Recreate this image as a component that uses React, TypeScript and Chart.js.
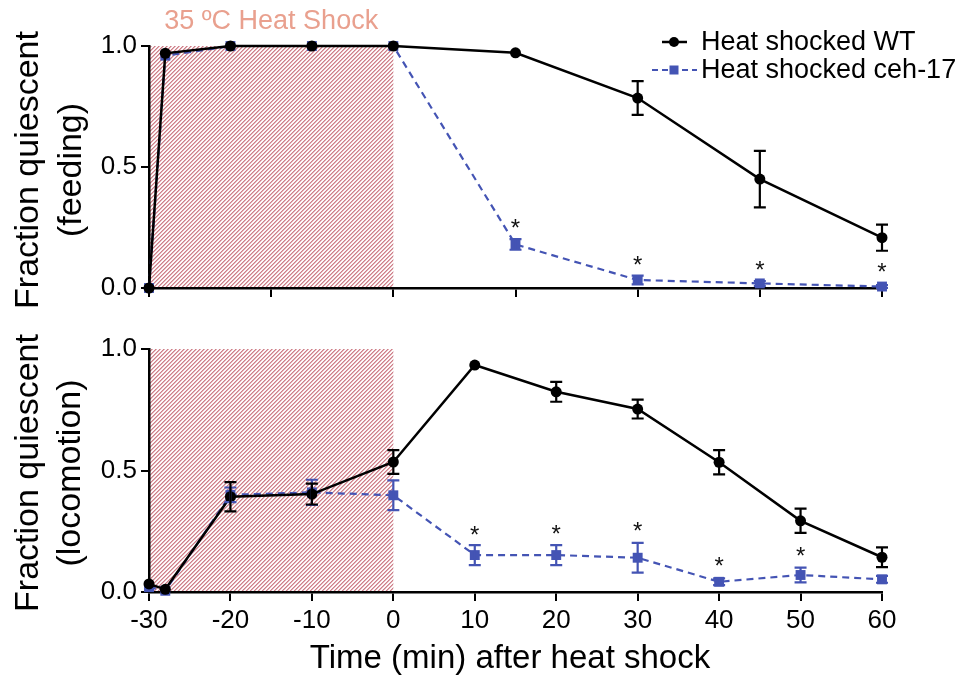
import React, { useEffect, useRef } from 'react';
import { Chart, registerables } from 'chart.js';
Chart.register(...registerables);

const FONT = "Arial, 'Liberation Sans', Helvetica, sans-serif";
const BLUE = '#4454b4';
const BLACK = '#000000';
const HEAT_COLOR = '#e9a08e';

// Top panel: feeding
const feedTime = [-30, -28, -20, -10, 0, 15, 30, 45, 60];
const feedWT = [0, 0.97, 1, 1, 1, 0.972, 0.785, 0.45, 0.208];
const feedWTErr = [0, 0, 0, 0, 0, 0, 0.07, 0.117, 0.054];
const feedCeh = [0, 0.96, 1, 1, 1, 0.18, 0.033, 0.019, 0.006];
const feedCehErr = [0, 0, 0, 0, 0, 0.022, 0.018, 0.01, 0.006];
const feedStars = [null, null, null, null, null, 0.273, 0.12, 0.1, 0.09];
const feedTicks = [-30, -15, 0, 15, 30, 45, 60];

// Bottom panel: locomotion
const locoTime = [-30, -28, -20, -10, 0, 10, 20, 30, 40, 50, 60];
const locoWT = [0.033, 0.011, 0.392, 0.403, 0.535, 0.934, 0.824, 0.753, 0.534, 0.293, 0.143];
const locoWTErr = [0, 0, 0.06, 0.043, 0.049, 0, 0.041, 0.039, 0.05, 0.05, 0.041];
const locoCeh = [0.02, 0.005, 0.4, 0.41, 0.398, 0.152, 0.152, 0.141, 0.042, 0.07, 0.052];
const locoCehErr = [0, 0, 0.03, 0.052, 0.061, 0.041, 0.041, 0.061, 0.014, 0.03, 0.014];
const locoStars = [null, null, null, null, null, 0.259, 0.265, 0.276, 0.132, 0.173, null];

const heatStart = -30;
const heatEnd = 0;
const seriesNames = ['Heat shocked WT', 'Heat shocked ceh-17'];

let hatchCache: CanvasPattern | null = null;
function getHatch(ctx: CanvasRenderingContext2D): CanvasPattern | string {
  if (hatchCache) return hatchCache;
  const tile = document.createElement('canvas');
  tile.width = 4;
  tile.height = 4;
  const t = tile.getContext('2d');
  if (!t) return '#e0b0b5';
  const img = t.createImageData(4, 4);
  const cols = [
    [204, 128, 138],
    [228, 176, 182],
    [255, 255, 255],
    [250, 240, 241],
  ];
  for (let y = 0; y < 4; y++) {
    for (let x = 0; x < 4; x++) {
      const d = (x + y) % 4;
      const c = cols[d];
      const i = (y * 4 + x) * 4;
      img.data[i] = c[0];
      img.data[i + 1] = c[1];
      img.data[i + 2] = c[2];
      img.data[i + 3] = 255;
    }
  }
  t.putImageData(img, 0, 0);
  const p = ctx.createPattern(tile, 'repeat');
  if (p) hatchCache = p;
  return p || '#e0b0b5';
}

type PanelCfg = {
  times: number[];
  wt: number[];
  wtErr: number[];
  ceh: number[];
  cehErr: number[];
  stars: (number | null)[];
  yTitle: string[];
  yTitleX: number[];
  yTitleY: number;
  heatLabel: boolean;
  legend: boolean;
  xTitle: string | null;
  xTitleY: number;
};

function makePlugin(cfg: PanelCfg) {
  return {
    id: 'panelDeco',
    beforeDraw(chart: any) {
      const { ctx, scales } = chart;
      const xs = scales.x;
      const ys = scales.y;
      const x0 = xs.getPixelForValue(heatStart);
      const x1 = xs.getPixelForValue(heatEnd);
      const y0 = ys.getPixelForValue(1);
      const y1 = ys.getPixelForValue(0);
      ctx.save();
      ctx.fillStyle = getHatch(ctx);
      ctx.fillRect(x0, y0, x1 - x0, y1 - y0);
      ctx.restore();
    },
    afterDatasetsDraw(chart: any) {
      const { ctx, scales } = chart;
      const xs = scales.x;
      const ys = scales.y;
      const drawErr = (vals: number[], errs: number[], color: string) => {
        ctx.save();
        ctx.strokeStyle = color;
        ctx.lineWidth = 2.2;
        for (let i = 0; i < vals.length; i++) {
          const e = errs[i];
          if (!e) continue;
          const x = xs.getPixelForValue(cfg.times[i]);
          const ya = ys.getPixelForValue(vals[i] + e);
          const yb = ys.getPixelForValue(vals[i] - e);
          ctx.beginPath();
          ctx.moveTo(x, ya);
          ctx.lineTo(x, yb);
          ctx.moveTo(x - 6, ya);
          ctx.lineTo(x + 6, ya);
          ctx.moveTo(x - 6, yb);
          ctx.lineTo(x + 6, yb);
          ctx.stroke();
        }
        ctx.restore();
      };
      drawErr(cfg.ceh, cfg.cehErr, BLUE);
      drawErr(cfg.wt, cfg.wtErr, BLACK);
      ctx.save();
      ctx.fillStyle = '#111';
      ctx.font = `24px ${FONT}`;
      ctx.textAlign = 'center';
      ctx.textBaseline = 'alphabetic';
      for (let i = 0; i < cfg.stars.length; i++) {
        const s = cfg.stars[i];
        if (s === null || s === undefined) continue;
        const x = xs.getPixelForValue(cfg.times[i]);
        const y = ys.getPixelForValue(s);
        ctx.fillText('*', x, y + 14);
      }
      ctx.restore();
    },
    afterDraw(chart: any) {
      const { ctx, scales } = chart;
      const xs = scales.x;
      ctx.save();
      // y title
      ctx.fillStyle = '#000';
      ctx.font = `34px ${FONT}`;
      ctx.textAlign = 'center';
      ctx.textBaseline = 'middle';
      cfg.yTitle.forEach((line, k) => {
        ctx.save();
        ctx.translate(cfg.yTitleX[k], cfg.yTitleY);
        ctx.rotate(-Math.PI / 2);
        ctx.fillText(line, 0, 0);
        ctx.restore();
      });
      if (cfg.heatLabel) {
        const cx = (xs.getPixelForValue(heatStart) + xs.getPixelForValue(heatEnd)) / 2;
        ctx.fillStyle = HEAT_COLOR;
        ctx.font = `27px ${FONT}`;
        ctx.textAlign = 'center';
        ctx.textBaseline = 'alphabetic';
        ctx.fillText('35 \u00BAC Heat Shock', cx, 29);
      }
      if (cfg.legend) {
        ctx.font = `27px ${FONT}`;
        ctx.textAlign = 'left';
        ctx.textBaseline = 'middle';
        // WT
        ctx.strokeStyle = BLACK;
        ctx.lineWidth = 2.5;
        ctx.beginPath();
        ctx.moveTo(662, 42);
        ctx.lineTo(687, 42);
        ctx.stroke();
        ctx.fillStyle = BLACK;
        ctx.beginPath();
        ctx.arc(674, 42, 5, 0, Math.PI * 2);
        ctx.fill();
        ctx.fillText(seriesNames[0], 701, 43);
        // ceh-17
        ctx.strokeStyle = BLUE;
        ctx.lineWidth = 2;
        ctx.setLineDash([6, 4]);
        ctx.beginPath();
        ctx.moveTo(652, 70);
        ctx.lineTo(697, 70);
        ctx.stroke();
        ctx.setLineDash([]);
        ctx.fillStyle = BLUE;
        ctx.fillRect(669.5, 65.5, 9, 9);
        ctx.fillStyle = BLACK;
        ctx.fillText(seriesNames[1], 701, 71);
      }
      if (cfg.xTitle) {
        ctx.fillStyle = '#000';
        ctx.font = `33px ${FONT}`;
        ctx.textAlign = 'center';
        ctx.textBaseline = 'alphabetic';
        ctx.fillText(cfg.xTitle, 510, cfg.xTitleY);
      }
      ctx.restore();
    },
  };
}

function buildConfig(cfg: PanelCfg, opts: { top: number; xHeight: number; bottomAxis: boolean }) {
  const wtData = cfg.times.map((t, i) => ({ x: t, y: cfg.wt[i] }));
  const cehData = cfg.times.map((t, i) => ({ x: t, y: cfg.ceh[i] }));
  return {
    type: 'line' as const,
    data: {
      datasets: [
        {
          label: seriesNames[0],
          data: wtData,
          borderColor: BLACK,
          backgroundColor: BLACK,
          borderWidth: 2.5,
          pointStyle: 'circle',
          pointRadius: 5.5,
          pointBorderWidth: 0,
          tension: 0,
          clip: false,
        },
        {
          label: seriesNames[1],
          data: cehData,
          borderColor: BLUE,
          backgroundColor: BLUE,
          borderWidth: 2.2,
          borderDash: [7, 5],
          pointStyle: 'rect',
          pointRadius: 7,
          pointBorderWidth: 0,
          tension: 0,
          clip: false,
        },
      ],
    },
    options: {
      animation: false as const,
      responsive: false,
      devicePixelRatio: 1,
      events: [],
      layout: { padding: { left: 0, right: 78, top: opts.top, bottom: 0 } },
      plugins: {
        legend: { display: false },
        tooltip: { enabled: false },
      },
      scales: {
        x: {
          type: 'linear' as const,
          min: -30,
          max: 60,
          afterFit: (s: any) => {
            s.height = opts.xHeight;
          },
          afterBuildTicks: (s: any) => {
            if (!opts.bottomAxis) s.ticks = feedTicks.map((v) => ({ value: v }));
          },
          ticks: {
            stepSize: 10,
            autoSkip: false,
            maxRotation: 0,
            padding: 4,
            color: '#000',
            font: { family: FONT, size: 26 },
            callback: (v: any) => (opts.bottomAxis ? String(v) : ''),
          },
          grid: {
            drawOnChartArea: false,
            drawTicks: true,
            tickLength: 9,
            color: '#000',
            lineWidth: 2,
          },
          border: { display: true, color: '#000', width: 2.5 },
        },
        y: {
          type: 'linear' as const,
          min: 0,
          max: 1,
          afterFit: (s: any) => {
            s.width = 149;
          },
          ticks: {
            stepSize: 0.5,
            padding: 4,
            color: '#000',
            font: { family: FONT, size: 26 },
            callback: (v: any) => Number(v).toFixed(1),
          },
          grid: {
            drawOnChartArea: false,
            drawTicks: true,
            tickLength: 8,
            color: '#000',
            lineWidth: 2,
          },
          border: { display: true, color: '#000', width: 2.5 },
        },
      },
    },
    plugins: [makePlugin(cfg)],
  };
}

const topCfg: PanelCfg = {
  times: feedTime,
  wt: feedWT,
  wtErr: feedWTErr,
  ceh: feedCeh,
  cehErr: feedCehErr,
  stars: feedStars,
  yTitle: ['Fraction quiescent', '(feeding)'],
  yTitleX: [29, 72],
  yTitleY: 170,
  heatLabel: true,
  legend: true,
  xTitle: null,
  xTitleY: 0,
};

const bottomCfg: PanelCfg = {
  times: locoTime,
  wt: locoWT,
  wtErr: locoWTErr,
  ceh: locoCeh,
  cehErr: locoCehErr,
  stars: locoStars,
  yTitle: ['Fraction quiescent', '(locomotion)'],
  yTitleX: [29, 71],
  yTitleY: 153,
  heatLabel: false,
  legend: false,
  xTitle: 'Time (min) after heat shock',
  xTitleY: 348,
};

export default function App() {
  const topRef = useRef<HTMLCanvasElement | null>(null);
  const botRef = useRef<HTMLCanvasElement | null>(null);

  useEffect(() => {
    if (!topRef.current || !botRef.current) return;
    const c1 = new Chart(topRef.current, buildConfig(topCfg, { top: 46, xHeight: 32, bottomAxis: false }) as any);
    const c2 = new Chart(botRef.current, buildConfig(bottomCfg, { top: 29, xHeight: 85, bottomAxis: true }) as any);
    return () => {
      c1.destroy();
      c2.destroy();
    };
  }, []);

  return (
    <div style={{ position: 'fixed', left: 0, top: 0, width: 960, height: 677, background: '#fff' }}>
      <canvas ref={topRef} width={960} height={320} style={{ position: 'absolute', left: 0, top: 0, width: 960, height: 320 }} />
      <canvas ref={botRef} width={960} height={357} style={{ position: 'absolute', left: 0, top: 320, width: 960, height: 357 }} />
    </div>
  );
}
